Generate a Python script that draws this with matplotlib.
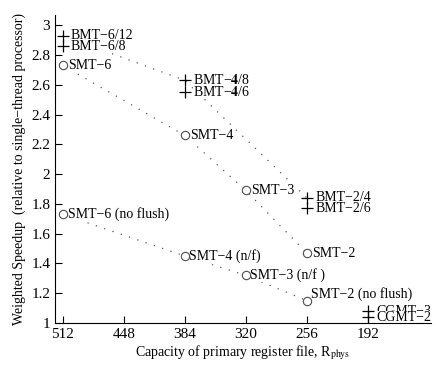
import numpy as np
import matplotlib
matplotlib.use("Agg")
import matplotlib.pyplot as plt

plt.rcParams['font.family'] = ['Liberation Serif', 'DejaVu Serif']
plt.rcParams['mathtext.fontset'] = 'stix'

# upper BMT curve
bmt_x = [512, 384, 256]
bmt_y = [2.93, 2.63, 1.84]
# SMT curve
smt_x = [512, 384, 320, 256]
smt_y = [2.73, 2.26, 1.89, 1.47]
# SMT without flush
nf_x = [512, 384, 320, 256]
nf_y = [1.73, 1.45, 1.32, 1.15]

# cross markers
plus_x = [512, 512, 384, 384, 256, 256, 192, 192]
plus_y = [2.93, 2.86, 2.63, 2.55, 1.84, 1.77, 1.08, 1.04]
plus_lab = ["BMT\u22126/12", "BMT\u22126/8", "BMT\u2212$\\mathbf{4}$/8", "BMT\u2212$\\mathbf{4}$/6",
            "BMT\u22122/4", "BMT\u22122/6", "CGMT\u22123", "CGMT\u22122"]
circ_lab = ["SMT\u22126", "SMT\u22124", "SMT\u22123", "SMT\u22122"]
nf_lab = ["SMT\u22126 (no flush)", "SMT\u22124 (n/f)", "SMT\u22123 (n/f )", "SMT\u22122 (no flush)"]

fig = plt.figure(figsize=(4.37, 3.7), dpi=100)
ax = fig.add_axes([0.126, 0.127, 0.86, 0.833])

ax.plot(bmt_x, bmt_y, ls=(0, (1, 6)), color='0.35', lw=0.9, zorder=1)
ax.plot(smt_x, smt_y, ls=(0, (1, 6)), color='0.35', lw=0.9, zorder=1)
ax.plot(nf_x, nf_y, ls=(0, (1, 6)), color='0.35', lw=0.9, zorder=1)

ax.plot(plus_x, plus_y, '+', color='k', ms=8, mew=0.9, ls='none', zorder=3)
ax.plot(smt_x, smt_y, 'o', mfc='white', mec='0.3', ms=6, mew=0.8, ls='none', zorder=3)
ax.plot(nf_x, nf_y, 'o', mfc='white', mec='0.3', ms=6, mew=0.8, ls='none', zorder=3)

fs = 10
bb = dict(facecolor='white', edgecolor='none', pad=0)
for x, y, s in zip(plus_x, plus_y, plus_lab):
    ax.annotate(s, (x, y), xytext=(6, 0), textcoords='offset points', va='center', fontsize=fs, bbox=bb, zorder=2)
for x, y, s in zip(smt_x, smt_y, circ_lab):
    ax.annotate(s, (x, y), xytext=(4, 0), textcoords='offset points', va='center', fontsize=fs, bbox=bb, zorder=2)
offs = [(4, 0), (3, 0), (3, 0), (3, 5)]
for (x, y, s), o in zip(zip(nf_x, nf_y, nf_lab), offs):
    ax.annotate(s, (x, y), xytext=o, textcoords='offset points', va='center', fontsize=fs, bbox=bb, zorder=2)

ax.set_xlim(520, 126)
ax.set_ylim(1, 3.07)
ax.set_xticks([512, 448, 384, 320, 256, 192])
ax.set_yticks([1, 1.2, 1.4, 1.6, 1.8, 2, 2.2, 2.4, 2.6, 2.8, 3])
ax.set_yticklabels(['1', '1.2', '1.4', '1.6', '1.8', '2', '2.2', '2.4', '2.6', '2.8', '3'])
ax.tick_params(direction='in', labelsize=fs + 1, length=5, width=0.8)
ax.spines['top'].set_visible(False)
ax.spines['right'].set_visible(False)
ax.set_xlabel("Capacity of primary register file, R$_{\\rm phys}$", fontsize=fs, labelpad=2)
ax.set_ylabel("Weighted Speedup  (relative to single\u2212thread processor)", fontsize=fs, labelpad=4)

fig.savefig("out.png", dpi=100)
